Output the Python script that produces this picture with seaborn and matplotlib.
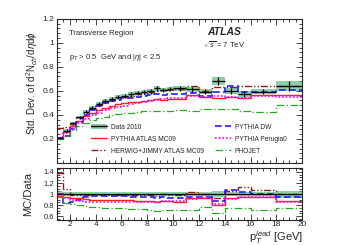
import numpy as np
import pandas as pd
import matplotlib
matplotlib.use("Agg")
import matplotlib.pyplot as plt
import seaborn as sns
from matplotlib.patches import Patch
from matplotlib.lines import Line2D
from matplotlib.ticker import MultipleLocator

# bin edges in pT lead [GeV]
edges = [1, 1.5, 2, 2.5, 3, 3.5, 4, 4.5, 5, 5.5, 6, 6.5, 7, 7.5, 8, 8.5, 9, 9.5, 10,
         11, 12, 13, 14, 15, 16, 18, 20]

data_2010 = [0.21, 0.27, 0.33, 0.38, 0.425, 0.46, 0.49, 0.515, 0.535, 0.55, 0.56, 0.57,
             0.58, 0.59, 0.595, 0.62, 0.605, 0.615,
             0.62, 0.614, 0.594, 0.68, 0.60, 0.573, 0.594, 0.64]
data_err = [0.01, 0.01, 0.012, 0.012, 0.013, 0.014, 0.015, 0.015, 0.016, 0.016, 0.017, 0.017,
            0.017, 0.018, 0.018, 0.018, 0.018, 0.019,
            0.02, 0.02, 0.02, 0.035, 0.022, 0.022, 0.022, 0.04]

# MC / Data ratios
r_mc09 = [0.97, 0.95, 0.93, 0.92, 0.91, 0.90, 0.90, 0.89, 0.89, 0.89, 0.89, 0.885,
          0.88, 0.88, 0.875, 0.86, 0.87, 0.87,
          0.86, 0.92, 0.93, 0.80, 0.92, 0.95, 0.95, 0.88]
r_herwig = [1.38, 1.10, 0.99, 0.98, 0.98, 0.98, 0.98, 0.98, 0.98, 0.98, 0.98, 0.98,
            0.99, 0.98, 0.99, 0.97, 1.00, 0.99,
            0.99, 1.04, 1.01, 0.93, 1.05, 1.12, 1.08, 1.00]
r_dw = [1.00, 0.84, 0.85, 0.90, 0.94, 0.96, 0.96, 0.97, 0.96, 0.96, 0.96, 0.95,
        0.95, 0.95, 0.95, 0.93, 0.94, 0.93,
        0.92, 0.95, 0.94, 0.87, 1.07, 1.03, 1.00, 0.95]
r_perugia0 = [0.95, 0.92, 0.89, 0.87, 0.86, 0.86, 0.85, 0.85, 0.85, 0.85, 0.85, 0.86,
              0.86, 0.86, 0.86, 0.85, 0.88, 0.88,
              0.87, 0.91, 0.92, 0.82, 0.91, 0.94, 0.94, 0.86]
r_phojet = [0.95, 0.84, 0.82, 0.80, 0.78, 0.77, 0.76, 0.75, 0.75, 0.74, 0.74, 0.73,
            0.73, 0.73, 0.72, 0.70, 0.72, 0.71,
            0.71, 0.71, 0.76, 0.66, 0.75, 0.75, 0.71, 0.75]

labels = ["PYTHIA ATLAS MC09", "HERWIG+JIMMY ATLAS MC09", "PYTHIA DW",
          "PYTHIA Perugia0", "PHOJET"]
ratios = [r_mc09, r_herwig, r_dw, r_perugia0, r_phojet]
colors = ["#ff2020", "#8b1a1a", "#1f1fff", "#ff00ff", "#22aa22"]
styles = ["-", (0, (5, 1.5, 1, 1.5, 1, 1.5)), (0, (4, 2)), (0, (1, 1.2)), (0, (6, 2, 1, 2))]
widths = [1.0, 1.0, 1.2, 1.2, 0.9]


def main():
    sns.set_style("ticks")
    plt.rcParams["font.family"] = ["Liberation Sans", "DejaVu Sans"]
    plt.rcParams["mathtext.fontset"] = "custom"
    plt.rcParams["mathtext.rm"] = "Liberation Sans"
    plt.rcParams["mathtext.it"] = "Liberation Sans:italic"

    e = np.array(edges)
    d = np.array(data_2010)
    de = np.array(data_err)
    centers = 0.5 * (e[:-1] + e[1:])
    halfw = 0.5 * (e[1:] - e[:-1])

    fig = plt.figure(figsize=(3.41, 2.45), dpi=100)
    ax1 = fig.add_axes([0.167, 0.335, 0.719, 0.588])
    ax2 = fig.add_axes([0.167, 0.104, 0.719, 0.21])

    band_col = "#3cb371"
    # data uncertainty bands
    ax1.stairs(d + de, e, baseline=d - de, fill=True, color=band_col, alpha=0.6, lw=0)
    ax2.stairs(1 + de / d, e, baseline=1 - de / d, fill=True, color=band_col, alpha=0.6, lw=0)

    for lab, r, c, ls, lw in zip(labels, ratios, colors, styles, widths):
        mc = np.array(r) * d
        df = pd.DataFrame({"x": e, "mc": np.append(mc, mc[-1]),
                           "ratio": np.append(r, r[-1])})
        sns.lineplot(data=df, x="x", y="mc", ax=ax1, color=c, linestyle=ls, lw=lw,
                     drawstyle="steps-post", estimator=None, sort=False)
        sns.lineplot(data=df, x="x", y="ratio", ax=ax2, color=c, linestyle=ls, lw=lw,
                     drawstyle="steps-post", estimator=None, sort=False)

    ax1.errorbar(centers, d, xerr=halfw, yerr=de, fmt="none", ecolor="black",
                 elinewidth=0.9, capsize=0)
    ax2.errorbar(centers, np.ones_like(d), xerr=halfw, fmt="none", ecolor="black",
                 elinewidth=0.9, capsize=0)

    for ax in (ax1, ax2):
        ax.set_xlim(1, 20)
        ax.set_xlabel("")
        ax.set_ylabel("")
        ax.tick_params(which="both", direction="in", top=True, right=True,
                       width=0.6, labelsize=6, pad=2)
        ax.tick_params(which="major", length=4)
        ax.tick_params(which="minor", length=2)
        ax.xaxis.set_major_locator(MultipleLocator(2))
        ax.xaxis.set_minor_locator(MultipleLocator(0.5))
        for s in ax.spines.values():
            s.set_linewidth(0.8)

    ax1.set_ylim(0, 1.2)
    ax1.set_yticks([0.2, 0.4, 0.6, 0.8, 1.0, 1.2])
    ax1.set_yticklabels(["0.2", "0.4", "0.6", "0.8", "1", "1.2"])
    ax1.yaxis.set_minor_locator(MultipleLocator(0.04))
    ax1.tick_params(labelbottom=False)

    ax2.set_ylim(0.54, 1.47)
    ax2.set_yticks([0.6, 0.8, 1.0, 1.2, 1.4])
    ax2.set_yticklabels(["0.6", "0.8", "1", "1.2", "1.4"])
    ax2.yaxis.set_minor_locator(MultipleLocator(0.05))
    ax2.tick_params(axis="y", labelsize=5.5)
    ax2.tick_params(axis="x", pad=1.0)

    fig.text(0.094, 0.66, r"Std. Dev. of d$^2$N$_{ch}$/d$\eta$d$\phi$", rotation=90,
             ha="center", va="center", fontsize=7)
    fig.text(0.082, 0.21, "MC/Data", rotation=90, ha="center", va="center", fontsize=8)
    fig.text(0.889, -0.004, r"p$_T^{lead}$ [GeV]", ha="right", va="bottom", fontsize=8)

    ax1.text(0.05, 0.90, "Transverse Region", transform=ax1.transAxes, fontsize=5.5,
             va="center")
    ax1.text(0.05, 0.73, r"p$_T$ > 0.5  GeV and |$\eta$| < 2.5", transform=ax1.transAxes,
             fontsize=5.5, va="center")
    ax1.text(0.68, 0.91, "ATLAS", transform=ax1.transAxes, fontsize=7.5,
             fontweight="bold", style="italic", ha="center", va="center")
    ax1.text(0.68, 0.82, r"$\sqrt{s}$ = 7 TeV", transform=ax1.transAxes, fontsize=5.5,
             ha="center", va="center")

    data_handle = (Patch(facecolor=band_col, alpha=0.6, lw=0),
                   Line2D([], [], color="black", lw=1.0))
    mc_handles = [Line2D([], [], color=c, linestyle=ls, lw=lw)
                  for c, ls, lw in zip(colors, styles, widths)]
    handles = [data_handle] + mc_handles
    names = ["Data 2010"] + labels
    ax1.legend(handles, names, ncol=2, loc="lower left", bbox_to_anchor=(0.115, 0.015),
               fontsize=4.8, frameon=False, handlelength=2.4, handletextpad=0.6,
               columnspacing=1.6, labelspacing=0.75)

    fig.savefig("out.png", dpi=100)
    plt.close(fig)


if __name__ == "__main__":
    main()
